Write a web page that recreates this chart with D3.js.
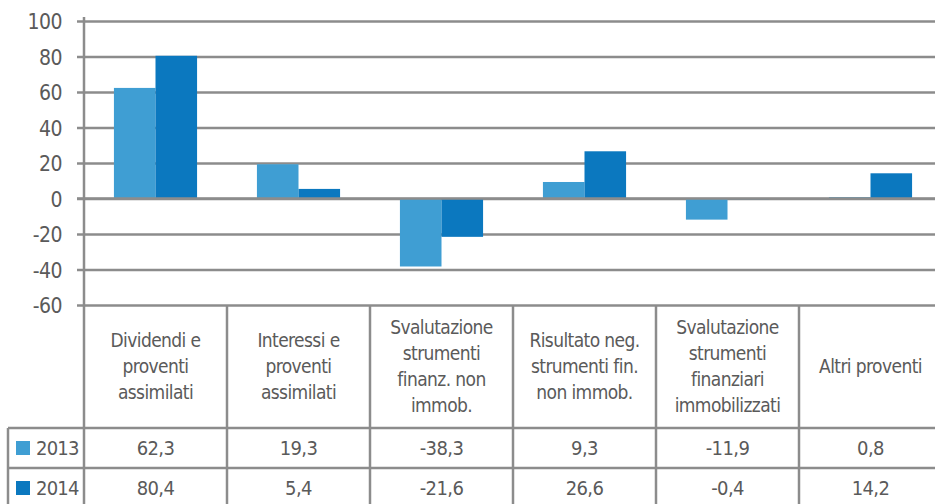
<!DOCTYPE html>
<html>
<head>
<meta charset="utf-8">
<script src="https://cdn.jsdelivr.net/npm/d3@7"></script>
<style>
  body { margin: 0; background: #fff; }
  svg { display: block; }
  text { font-family: "DejaVu Sans Condensed", "Liberation Sans Narrow", sans-serif; fill: #5a5a5a; }
</style>
</head>
<body>
<svg id="chart" width="935" height="504"></svg>
<script>
var categories = [
    ["Dividendi e", "proventi", "assimilati"],
    ["Interessi e", "proventi", "assimilati"],
    ["Svalutazione", "strumenti", "finanz. non", "immob."],
    ["Risultato neg.", "strumenti fin.", "non immob."],
    ["Svalutazione", "strumenti", "finanziari", "immobilizzati"],
    ["Altri proventi"]
];
var series = ["2013", "2014"];
var values2013 = [62.3, 19.3, -38.3, 9.3, -11.9, 0.8];
var values2014 = [80.4, 5.4, -21.6, 26.6, -0.4, 14.2];
var yTicks = [100, 80, 60, 40, 20, 0, -20, -40, -60];
var colors = {"2013": "#3f9ed3", "2014": "#0b78bf"};

var svg = d3.select("#chart");

var plotLeft = 84, plotRight = 942;
var yTop = 21, yBottom = 305;
var headerBottom = 428, row1Bottom = 468, tableLeft = 8;
var gridColor = "#8c8c8c";

var x = d3.scaleBand()
          .domain(d3.range(categories.length))
          .range([plotLeft, plotRight]);

var xSub = d3.scaleBand()
             .domain(series)
             .range([0, x.bandwidth()])
             .paddingOuter(0.72);

var y = d3.scaleLinear()
          .domain([-60, 100])
          .range([yBottom, yTop]);

var data = series.map(function(s) {
    var vals = s == "2013" ? values2013 : values2014;
    return {key: s, values: vals};
});

// gridlines + y labels
var yAxis = d3.axisLeft(y)
              .tickValues(yTicks)
              .tickSize(-(plotRight - plotLeft))
              .tickFormat(function(d) { return String(d); });

var gy = svg.append("g")
   .attr("class", "axis")
   .attr("transform", "translate(" + plotLeft + ",0)")
   .call(yAxis);
gy.select(".domain").remove();
gy.selectAll(".tick line")
  .attr("x1", -7)
  .attr("stroke", gridColor)
  .attr("stroke-width", 2.5);
gy.selectAll(".tick text")
  .style("font-size", "21px")
  .style("letter-spacing", "-0.5px")
  .attr("x", -22)
  .attr("dy", "0.36em");

// bars
series.forEach(function(s) {
    var vals = s == "2013" ? values2013 : values2014;
    svg.append("g")
       .selectAll("rect")
       .data(vals)
       .enter()
       .append("rect")
       .attr("x", function(d, i) { return x(i) + xSub(s); })
       .attr("y", function(d) { return y(Math.max(0, d)); })
       .attr("width", xSub.bandwidth())
       .attr("height", function(d) { return Math.abs(y(d) - y(0)); })
       .attr("fill", colors[s]);
});

// redraw zero line over bars
svg.append("line")
   .attr("x1", plotLeft - 7).attr("x2", plotRight)
   .attr("y1", y(0)).attr("y2", y(0))
   .attr("stroke", gridColor).attr("stroke-width", 2.5);

// table lines
var tbl = svg.append("g").attr("stroke", gridColor).attr("stroke-width", 2.5);
tbl.append("line")
   .attr("x1", plotLeft).attr("x2", plotLeft)
   .attr("y1", yTop - 4).attr("y2", 504);
d3.range(1, categories.length + 1).forEach(function(i) {
    var xx = x(i) != undefined ? x(i) : plotRight;
    tbl.append("line")
       .attr("x1", xx).attr("x2", xx)
       .attr("y1", yBottom).attr("y2", 504);
});
tbl.append("line")
   .attr("x1", tableLeft).attr("x2", tableLeft)
   .attr("y1", headerBottom).attr("y2", 504);
[headerBottom, row1Bottom].forEach(function(yy) {
    tbl.append("line")
       .attr("x1", tableLeft).attr("x2", plotRight)
       .attr("y1", yy).attr("y2", yy);
});

// category labels
var lineH = 26;
var headerMid = (yBottom + headerBottom) / 2;
categories.forEach(function(lines, i) {
    var t = svg.append("text")
       .attr("text-anchor", "middle")
       .style("font-size", "19px")
       .style("letter-spacing", "-0.6px");
    lines.forEach(function(l, j) {
        t.append("tspan")
         .attr("x", x(i) + x.bandwidth() / 2)
         .attr("y", headerMid + (j - (lines.length - 1) / 2) * lineH)
         .attr("dy", "0.35em")
         .text(l);
    });
});

// value rows
var rowMids = [(headerBottom + row1Bottom) / 2, (row1Bottom + 508) / 2];
var fmt = d3.format(".1f");
data.forEach(function(row, r) {
    svg.append("rect")
       .attr("x", 16).attr("y", rowMids[r] - 7)
       .attr("width", 14).attr("height", 14)
       .attr("fill", colors[row.key]);
    svg.append("text")
       .attr("x", 36).attr("y", rowMids[r])
       .attr("dy", "0.36em")
       .style("font-size", "20px")
       .style("letter-spacing", "-0.8px")
       .text(row.key);
    svg.append("g")
       .selectAll("text")
       .data(row.values)
       .enter()
       .append("text")
       .attr("x", function(d, i) { return x(i) + x.bandwidth() / 2; })
       .attr("y", rowMids[r])
       .attr("dy", "0.36em")
       .attr("text-anchor", "middle")
       .style("font-size", "20px")
       .style("letter-spacing", "-0.6px")
       .text(function(d) { return fmt(d).replace("\u2212", "-").replace(".", ","); });
});
</script>
</body>
</html>
